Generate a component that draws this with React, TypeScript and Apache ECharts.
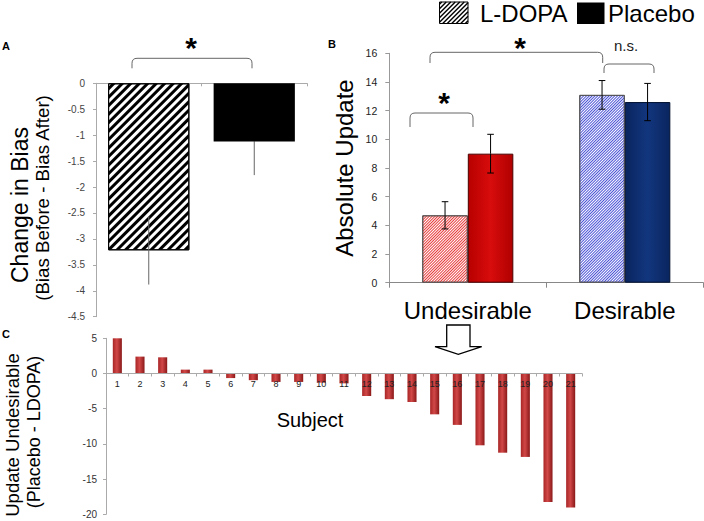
import React, { useEffect, useRef } from 'react';
import * as echarts from 'echarts';

// ---- Panel A data ----
const groupsA = ['L-DOPA', 'Placebo'];
const biasChange = [-3.22, -1.12];
const biasErr = [0.66, 0.65];

// ---- Panel B data ----
const conditions = ['Undesirable', 'Desirable'];
const ldopaUpdate = [4.7, 13.1];
const ldopaErr = [0.95, 1.0];
const placeboUpdate = [9.0, 12.6];
const placeboErr = [1.35, 1.3];

// ---- Panel C data ----
const subjects = ['1', '2', '3', '4', '5', '6', '7', '8', '9', '10', '11', '12', '13', '14', '15', '16', '17', '18', '19', '20', '21'];
const updateDiff = [5.0, 2.4, 2.3, 0.55, 0.55, -0.65, -0.95, -1.2, -1.2, -1.3, -1.4, -3.2, -3.65, -4.05, -5.8, -7.3, -10.2, -11.25, -11.85, -18.25, -19.05];
const cMin = -20;
const cMax = 5;

const FONT = 'Liberation Sans, Arial, sans-serif';

function errorSeries(xi: number, yi: number, means: number[], errs: number[], offsetFrac: number, capHalf: number, color: string, innerColors?: string[]) {
  return {
    type: 'custom',
    xAxisIndex: xi,
    yAxisIndex: yi,
    z: 10,
    silent: true,
    data: means.map((m, i) => [i, m, errs[i]]),
    encode: { x: 0, y: 1 },
    renderItem: (params: any, api: any) => {
      const i = api.value(0);
      const m = api.value(1);
      const e = api.value(2);
      const band = api.size([1, 0])[0];
      const hi = api.coord([i, m + e]);
      const mid = api.coord([i, m]);
      const lo = api.coord([i, m - e]);
      const x = hi[0] + band * offsetFrac;
      const st = { stroke: color, lineWidth: 1 };
      const inner = innerColors ? innerColors[params.dataIndex] : color;
      const outsideEnd = m < 0 ? lo : hi;
      const insideEnd = m < 0 ? hi : lo;
      const children: any[] = [
        { type: 'line', shape: { x1: x, y1: mid[1], x2: x, y2: outsideEnd[1] }, style: st },
        { type: 'line', shape: { x1: x, y1: mid[1], x2: x, y2: insideEnd[1] }, style: { stroke: inner, lineWidth: 1 } },
      ];
      if (capHalf > 0) {
        children.push({ type: 'line', shape: { x1: x - capHalf, y1: hi[1], x2: x + capHalf, y2: hi[1] }, style: st });
        children.push({ type: 'line', shape: { x1: x - capHalf, y1: lo[1], x2: x + capHalf, y2: lo[1] }, style: st });
      }
      return { type: 'group', children };
    },
  };
}

function hatchLines(x0: number, y0: number, w: number, h: number, step: number, color: string, lw: number) {
  const x1 = x0 + w;
  const y1 = y0 + h;
  const out: any[] = [];
  for (let c = x0 + y0 + step / 2; c < x1 + y1; c += step) {
    const sx = Math.max(x0, c - y1);
    const ex = Math.min(x1, c - y0);
    if (ex > sx) {
      out.push({
        type: 'line',
        shape: { x1: sx, y1: c - sx, x2: ex, y2: c - ex },
        style: { stroke: color, lineWidth: lw },
        z: 101,
      });
    }
  }
  return out;
}

function bracketPath(xa: number, xb: number, yt: number, yb: number, r: number) {
  return `M ${xa} ${yb} L ${xa} ${yt + r} Q ${xa} ${yt} ${xa + r} ${yt} L ${xb - r} ${yt} Q ${xb} ${yt} ${xb} ${yt + r} L ${xb} ${yb}`;
}

export default function App() {
  const ref = useRef<HTMLDivElement>(null);
  useEffect(() => {
    if (!ref.current) return;
    echarts.graphic.registerShape('bracketA', echarts.graphic.extendPath(bracketPath(132, 252, 58.3, 68.3, 5), {}) as any);
    echarts.graphic.registerShape('bracketB1', echarts.graphic.extendPath(bracketPath(410, 473, 113, 127, 5), {}) as any);
    echarts.graphic.registerShape('bracketB2', echarts.graphic.extendPath(bracketPath(430, 602.7, 52.3, 63, 5), {}) as any);
    echarts.graphic.registerShape('bracketB3', echarts.graphic.extendPath(bracketPath(604, 654, 64, 73, 5), {}) as any);

    const chart = echarts.init(ref.current, null, { renderer: 'svg' });

    const gridC = { left: 106, top: 338.3, width: 476, height: 176 };
    // put panel C's category axis on the zero line
    const cAxisOffset = -gridC.height * (0 - cMin) / (cMax - cMin);

    const bracketStyle = { stroke: '#666', fill: null, lineWidth: 1 };
    const redGrad = {
      type: 'linear', x: 0, y: 0, x2: 1, y2: 0,
      colorStops: [
        { offset: 0, color: '#b80000' },
        { offset: 0.5, color: '#d80c0c' },
        { offset: 1, color: '#b00000' },
      ],
    };
    const navyGrad = {
      type: 'linear', x: 0, y: 0, x2: 1, y2: 0,
      colorStops: [
        { offset: 0, color: '#0a255f' },
        { offset: 0.5, color: '#12367e' },
        { offset: 1, color: '#0a255f' },
      ],
    };
    const cGrad = {
      type: 'linear', x: 0, y: 0, x2: 1, y2: 0,
      colorStops: [
        { offset: 0, color: '#a82626' },
        { offset: 0.45, color: '#d24848' },
        { offset: 1, color: '#8a1818' },
      ],
    };
    const hatch = (color: string, on: number, off: number) => ({
      symbol: 'rect',
      symbolSize: 1,
      color,
      backgroundColor: '#ffffff',
      dashArrayX: [1, 0],
      dashArrayY: [on, off],
      rotation: -Math.PI / 4,
    });

    const option: any = {
      animation: false,
      textStyle: { fontFamily: FONT },
      grid: [
        { left: 96, top: 83.3, width: 211, height: 233.4, containLabel: false },
        { left: 389.3, top: 53.3, width: 314, height: 229.4, containLabel: false },
        { ...gridC, containLabel: false },
      ],
      xAxis: [
        {
          gridIndex: 0, type: 'category', data: groupsA,
          axisLine: { show: true, onZero: true, lineStyle: { color: '#aaa' } },
          axisTick: { show: true, length: 3, lineStyle: { color: '#aaa' } },
          axisLabel: { show: false },
        },
        {
          gridIndex: 1, type: 'category', data: conditions,
          axisLine: { show: true, onZero: false, lineStyle: { color: '#888' } },
          axisTick: { show: true, length: 5, lineStyle: { color: '#888' } },
          axisLabel: { fontSize: 24, color: '#000', margin: 16, interval: 0, fontFamily: FONT },
        },
        {
          gridIndex: 2, type: 'category', data: subjects, position: 'bottom', offset: cAxisOffset, z: 20,
          axisLine: { show: true, onZero: false, lineStyle: { color: '#aaa' } },
          axisTick: { show: true, length: 3, lineStyle: { color: '#aaa' } },
          axisLabel: { fontSize: 9, color: '#222', margin: 6, interval: 0, fontFamily: FONT },
        },
      ],
      yAxis: [
        {
          gridIndex: 0, type: 'value', min: -4.5, max: 0, interval: 0.5,
          axisLine: { show: true, lineStyle: { color: '#aaa' } },
          axisTick: { show: true, length: 3, lineStyle: { color: '#aaa' } },
          splitLine: { show: false },
          axisLabel: { fontSize: 10, color: '#444', margin: 11, fontFamily: FONT },
        },
        {
          gridIndex: 1, type: 'value', min: 0, max: 16, interval: 2,
          axisLine: { show: true, lineStyle: { color: '#999' } },
          axisTick: { show: true, length: 4, lineStyle: { color: '#999' } },
          splitLine: { show: false },
          axisLabel: { fontSize: 10.5, color: '#222', margin: 12, fontFamily: FONT },
        },
        {
          gridIndex: 2, type: 'value', min: cMin, max: cMax, interval: 5,
          axisLine: { show: true, lineStyle: { color: '#aaa' } },
          axisTick: { show: true, length: 3, lineStyle: { color: '#aaa' } },
          splitLine: { show: false },
          axisLabel: { fontSize: 10, color: '#333', margin: 9, fontFamily: FONT },
        },
      ],
      series: [
        {
          type: 'bar', xAxisIndex: 0, yAxisIndex: 0, barCategoryGap: '23%',
          data: [
            { value: biasChange[0], itemStyle: { color: '#fff', borderColor: '#000', borderWidth: 1, decal: hatch('#000', 2.4, 2.4) } },
            { value: biasChange[1], itemStyle: { color: '#000' } },
          ],
        },
        errorSeries(0, 0, biasChange, biasErr, 0, 0, '#666', ['#666', '#000']),
        {
          name: 'L-DOPA', type: 'bar', xAxisIndex: 1, yAxisIndex: 1, barCategoryGap: '42%', barGap: 0,
          data: [
            { value: ldopaUpdate[0], itemStyle: { color: '#fff', borderColor: '#555', borderWidth: 1, decal: hatch('#e83a3a', 1, 1) } },
            { value: ldopaUpdate[1], itemStyle: { color: '#fff', borderColor: '#555', borderWidth: 1, decal: hatch('#4a52d6', 1, 1) } },
          ],
        },
        {
          name: 'Placebo', type: 'bar', xAxisIndex: 1, yAxisIndex: 1, barCategoryGap: '42%', barGap: 0,
          data: [
            { value: placeboUpdate[0], itemStyle: { color: redGrad, borderColor: '#4a0000', borderWidth: 1 } },
            { value: placeboUpdate[1], itemStyle: { color: navyGrad, borderColor: '#001030', borderWidth: 1 } },
          ],
        },
        errorSeries(1, 1, ldopaUpdate, ldopaErr, -0.145, 3.3, '#000'),
        errorSeries(1, 1, placeboUpdate, placeboErr, 0.145, 3.3, '#000'),
        {
          type: 'bar', xAxisIndex: 2, yAxisIndex: 2, barCategoryGap: '60%', z: 2,
          itemStyle: { color: cGrad },
          data: updateDiff,
        },
      ],
      graphic: [
        // panel letters
        { type: 'text', x: 6, y: 46, style: { text: 'A', font: `bold 11px ${FONT}`, fill: '#000', align: 'center', verticalAlign: 'middle' } },
        { type: 'text', x: 332, y: 44, style: { text: 'B', font: `bold 11px ${FONT}`, fill: '#000', align: 'center', verticalAlign: 'middle' } },
        { type: 'text', x: 6, y: 334, style: { text: 'C', font: `bold 11px ${FONT}`, fill: '#000', align: 'center', verticalAlign: 'middle' } },
        // axis titles
        { type: 'text', x: 20, y: 205, rotation: Math.PI / 2, style: { text: 'Change in Bias', font: `23px ${FONT}`, fill: '#000', align: 'center', verticalAlign: 'middle' } },
        { type: 'text', x: 42, y: 198, rotation: Math.PI / 2, style: { text: '(Bias Before - Bias After)', font: `18.7px ${FONT}`, fill: '#000', align: 'center', verticalAlign: 'middle' } },
        { type: 'text', x: 344, y: 168, rotation: Math.PI / 2, style: { text: 'Absolute Update', font: `24px ${FONT}`, fill: '#000', align: 'center', verticalAlign: 'middle' } },
        { type: 'text', x: 12, y: 435, rotation: Math.PI / 2, style: { text: 'Update Undesirable', font: `18.5px ${FONT}`, fill: '#000', align: 'center', verticalAlign: 'middle' } },
        { type: 'text', x: 34, y: 432, rotation: Math.PI / 2, style: { text: '(Placebo - LDOPA)', font: `18px ${FONT}`, fill: '#000', align: 'center', verticalAlign: 'middle' } },
        { type: 'text', x: 310, y: 420, style: { text: 'Subject', font: `20px ${FONT}`, fill: '#000', align: 'center', verticalAlign: 'middle' } },
        // legend
        { type: 'rect', shape: { x: 439.5, y: 2, width: 28.5, height: 21.5 }, style: { fill: '#fff', stroke: '#000', lineWidth: 1 }, z: 100 },
        ...hatchLines(439.5, 2, 28.5, 21.5, 4.5, '#000', 1.4),
        { type: 'text', x: 480, y: 13, style: { text: 'L-DOPA', font: `24px ${FONT}`, fill: '#000', align: 'left', verticalAlign: 'middle' } },
        { type: 'rect', shape: { x: 577, y: 2.5, width: 27.5, height: 21.5 }, style: { fill: '#000' } },
        { type: 'text', x: 608, y: 13, style: { text: 'Placebo', font: `24px ${FONT}`, fill: '#000', align: 'left', verticalAlign: 'middle' } },
        // brackets and significance
        { type: 'bracketA', x: 0, y: 0, style: bracketStyle },
        { type: 'bracketB1', x: 0, y: 0, style: bracketStyle },
        { type: 'bracketB2', x: 0, y: 0, style: bracketStyle },
        { type: 'bracketB3', x: 0, y: 0, style: bracketStyle },
        { type: 'text', x: 191, y: 47, style: { text: '*', font: `bold 30px ${FONT}`, fill: '#000', align: 'center', verticalAlign: 'middle' } },
        { type: 'text', x: 444, y: 102, style: { text: '*', font: `bold 30px ${FONT}`, fill: '#000', align: 'center', verticalAlign: 'middle' } },
        { type: 'text', x: 520, y: 47, style: { text: '*', font: `bold 30px ${FONT}`, fill: '#000', align: 'center', verticalAlign: 'middle' } },
        { type: 'text', x: 626, y: 45, style: { text: 'n.s.', font: `15px ${FONT}`, fill: '#222', align: 'center', verticalAlign: 'middle' } },
        // arrow
        {
          type: 'polygon',
          shape: { points: [[446.7, 325], [470, 325], [470, 346.7], [481.7, 346.7], [458.3, 354.3], [435, 346.7], [446.7, 346.7]] },
          style: { fill: '#fff', stroke: '#000', lineWidth: 1.3 },
        },
      ],
    };
    chart.setOption(option);
    return () => chart.dispose();
  }, []);
  return <div ref={ref} style={{ position: 'fixed', left: 0, top: 0, width: 704, height: 521, background: '#fff' }} />;
}
